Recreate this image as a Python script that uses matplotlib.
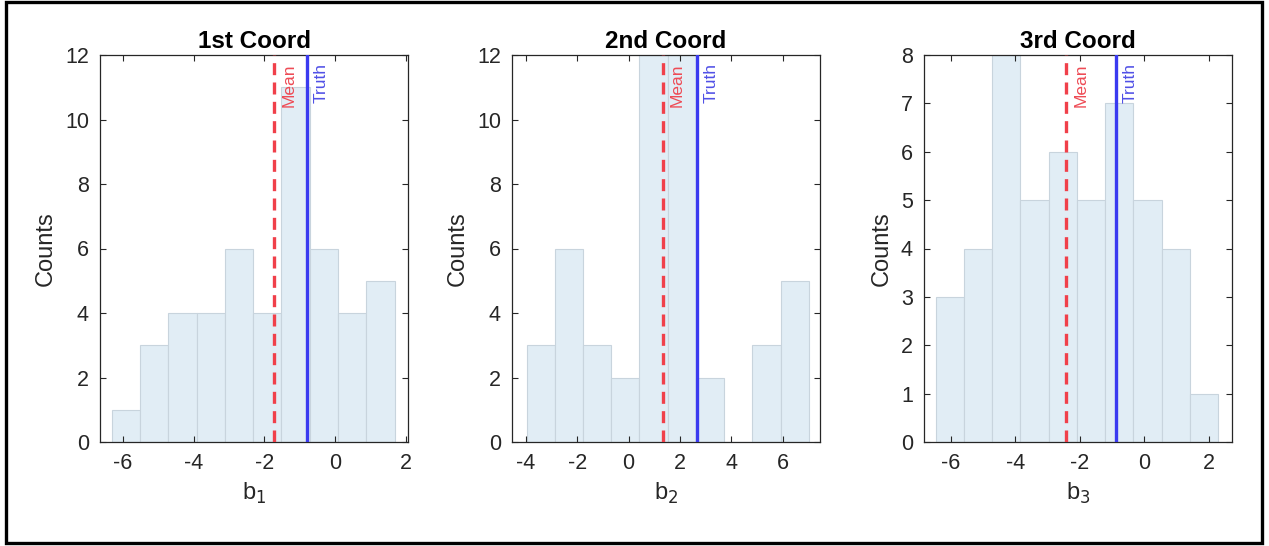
import numpy as np
import matplotlib.pyplot as plt
from matplotlib.patches import Rectangle

plt.rcParams['font.family'] = ['Liberation Sans', 'DejaVu Sans']
plt.rcParams['axes.unicode_minus'] = False

# Histogram bins and counts for each coordinate
titulos = ["1st Coord", "2nd Coord", "3rd Coord"]
etiquetas_x = ["b$_1$", "b$_2$", "b$_3$"]

bordes_1 = [-6.32, -5.52, -4.72, -3.92, -3.12, -2.32, -1.52, -0.72, 0.08, 0.88, 1.68]
conteos_1 = [1, 3, 4, 4, 6, 4, 11, 6, 4, 5]
bordes_2 = [-3.98, -2.88, -1.78, -0.68, 0.42, 1.52, 2.62, 3.72, 4.82, 5.92, 7.02]
conteos_2 = [3, 6, 3, 2, 12, 12, 2, 0, 3, 5]
bordes_3 = [-6.48, -5.60, -4.72, -3.85, -2.97, -2.09, -1.21, -0.34, 0.54, 1.42, 2.30]
conteos_3 = [3, 4, 8, 5, 6, 5, 7, 5, 4, 1]

medias = [-1.72, 1.34, -2.42]
verdades = [-0.81, 2.66, -0.89]

# Axis settings
limites_x = [(-6.65, 2.06), (-4.55, 7.46), (-6.84, 2.72)]
ticks_x = [[-6, -4, -2, 0, 2], [-4, -2, 0, 2, 4, 6], [-6, -4, -2, 0, 2]]
limites_y = [(0, 12), (0, 12), (0, 8)]
ticks_y = [range(0, 13, 2), range(0, 13, 2), range(0, 9)]

bordes = [bordes_1, bordes_2, bordes_3]
conteos = [conteos_1, conteos_2, conteos_3]

fig = plt.figure(figsize=(12.69, 5.46), dpi=100)
izquierdas = [100 / 1269, 512 / 1269, 924 / 1269]
ancho = 308 / 1269
abajo = (546 - 442) / 546
alto = 387 / 546

for i in range(3):
    ax = fig.add_axes([izquierdas[i], abajo, ancho, alto])
    b = np.array(bordes[i])
    ax.bar(b[:-1], conteos[i], width=np.diff(b), align='edge',
           color='#e1edf5', edgecolor='#c8d4dd', linewidth=0.8, zorder=1)

    ax.axvline(medias[i], color='#f0404a', linestyle=(0, (3.6, 2.2)), linewidth=2.4, zorder=3)
    ax.axvline(verdades[i], color='#3a3af0', linewidth=2.4, zorder=3)
    ax.annotate("Mean", xy=(medias[i], 1), xycoords=('data', 'axes fraction'),
                xytext=(5, -6), textcoords='offset points', rotation=90,
                ha='left', va='top', fontsize=12.5, color='#ee4b55', zorder=4)
    ax.annotate("Truth", xy=(verdades[i], 1), xycoords=('data', 'axes fraction'),
                xytext=(5, -6), textcoords='offset points', rotation=90,
                ha='left', va='top', fontsize=12.5, color='#5050e6', zorder=4)

    ax.set_xlim(*limites_x[i])
    ax.set_ylim(*limites_y[i])
    ax.set_xticks(ticks_x[i])
    ax.set_yticks(list(ticks_y[i]))
    ax.tick_params(direction='in', top=True, right=True, length=4, width=0.8,
                   labelsize=15.5, colors='#262626', pad=8)
    for lado in ax.spines.values():
        lado.set_color('#262626')
        lado.set_linewidth(0.9)
    ax.set_title(titulos[i], fontsize=17.5, fontweight='bold', pad=5)
    ax.set_xlabel(etiquetas_x[i], fontsize=17, color='#262626', labelpad=5)
    ax.set_ylabel("Counts", fontsize=17, color='#262626', labelpad=6)

# Frame around the whole figure
fig.patches.append(Rectangle((6.5 / 1269, 3 / 546), 1255.5 / 1269, 541 / 546,
                             transform=fig.transFigure, fill=False,
                             edgecolor='black', linewidth=2.4))

fig.savefig("out.png", dpi=100)
